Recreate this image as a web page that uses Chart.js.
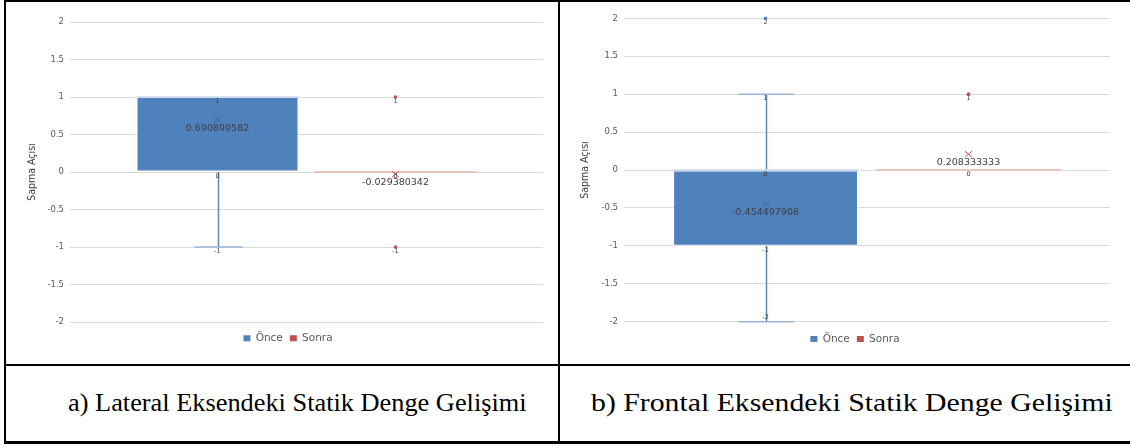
<!DOCTYPE html>
<html>
<head>
<meta charset="utf-8">
<script src="https://cdn.jsdelivr.net/npm/chart.js@4.4.0/dist/chart.umd.min.js"></script>
<style>
  body { margin: 0; width: 1130px; height: 446px; background: #fff; position: relative; overflow: hidden; }
  .rule { position: absolute; background: #000; }
  .box { position: absolute; }
  .cap { position: absolute; top: 386px; height: 34px; line-height: 34px; white-space: nowrap; transform-origin: 0 50%;
         font-family: "Liberation Serif", "Times New Roman", serif; font-size: 26px; color: #000; }
</style>
</head>
<body>
<div class="rule" style="left:4px;top:0;width:1126px;height:2px"></div>
<div class="rule" style="left:4px;top:364px;width:1126px;height:2px"></div>
<div class="rule" style="left:4px;top:441px;width:1126px;height:3px"></div>
<div class="rule" style="left:4px;top:0;width:2px;height:444px"></div>
<div class="rule" style="left:558px;top:0;width:2px;height:444px"></div>

<div class="box" style="left:8px;top:2px;width:548px;height:360px"><canvas id="chart-lateral"></canvas></div>
<div class="box" style="left:562px;top:2px;width:566px;height:360px"><canvas id="chart-frontal"></canvas></div>

<div class="cap" id="cap-a" style="left:68px;transform:scaleX(1.013)"></div>
<div class="cap" id="cap-b" style="left:591px;transform:scaleX(1.145)"></div>

<script>
var groups = ["Önce", "Sonra"];
var axisTitle = "Sapma Açısı";
var captions = ["a) Lateral Eksendeki Statik Denge Gelişimi", "b) Frontal Eksendeki Statik Denge Gelişimi"];
var yMin = -2;
var yMax = 2;
var yStep = 0.5;

// lateral panel (a)
var latMin = [-1, 0];
var latQ1 = [0, 0];
var latMedian = [1, 0];
var latQ3 = [1, 0];
var latMax = [1, 0];
var latMean = [0.690899582, -0.029380342];
var latOutliers = [[], [1, -1]];

// frontal panel (b)
var frMin = [-2, 0];
var frQ1 = [-1, 0];
var frMedian = [0, 0];
var frQ3 = [0, 0];
var frMax = [1, 0];
var frMean = [-0.454497908, 0.208333333];
var frOutliers = [[2], [1]];

var fills = ["#4f81bd", "#c0504d"];
var medianColors = ["#c9d7ea", "#e8b7b6"];
var meanColors = ["#3e6799", "#c0504d"];
var whiskerColor = "#5f8bc3";
var capColor = "#9ab5d9";
var labelColor = "#404040";
var tickFont = "DejaVu Sans";

function boxExtras(s) {
  function fmt(v) { return String(v); }
  return {
    id: "boxExtras",
    beforeDatasetsDraw: function (chart) {
      var ctx = chart.ctx, y = chart.scales.y;
      ctx.save();
      for (var i = 0; i < groups.length; i++) {
        var bar = chart.getDatasetMeta(i).data[0];
        var cx = Math.round(bar.x) + 0.5, cw = bar.width * 0.3;
        ctx.strokeStyle = whiskerColor;
        ctx.lineWidth = 1.5;
        ctx.beginPath();
        if (s.max[i] > s.q3[i]) { ctx.moveTo(cx, y.getPixelForValue(s.q3[i])); ctx.lineTo(cx, y.getPixelForValue(s.max[i])); }
        if (s.min[i] < s.q1[i]) { ctx.moveTo(cx, y.getPixelForValue(s.q1[i])); ctx.lineTo(cx, y.getPixelForValue(s.min[i])); }
        ctx.stroke();
        ctx.strokeStyle = capColor;
        ctx.beginPath();
        if (s.max[i] > s.q3[i]) { var py = y.getPixelForValue(s.max[i]); ctx.moveTo(cx - cw / 2, py); ctx.lineTo(cx + cw / 2, py); }
        if (s.min[i] < s.q1[i]) { var pm = y.getPixelForValue(s.min[i]); ctx.moveTo(cx - cw / 2, pm); ctx.lineTo(cx + cw / 2, pm); }
        ctx.stroke();
      }
      ctx.restore();
    },
    afterDatasetsDraw: function (chart) {
      var ctx = chart.ctx, y = chart.scales.y, area = chart.chartArea;
      ctx.save();
      for (var i = 0; i < groups.length; i++) {
        var bar = chart.getDatasetMeta(i).data[0];
        var cx = bar.x, w = bar.width;
        // median
        var my = y.getPixelForValue(s.median[i]);
        ctx.strokeStyle = medianColors[i];
        ctx.lineWidth = 1.5;
        ctx.beginPath();
        ctx.moveTo(cx - w / 2, my);
        ctx.lineTo(cx + w / 2, my);
        ctx.stroke();
        // outliers
        ctx.fillStyle = fills[i];
        s.outliers[i].forEach(function (v) {
          ctx.beginPath();
          ctx.arc(cx, y.getPixelForValue(v), 1.8, 0, Math.PI * 2);
          ctx.fill();
        });
        // mean marker
        var ym = y.getPixelForValue(s.mean[i]);
        ctx.strokeStyle = meanColors[i];
        ctx.lineWidth = 1;
        ctx.beginPath();
        ctx.moveTo(cx - 3.5, ym - 3);
        ctx.lineTo(cx + 3.5, ym + 3);
        ctx.moveTo(cx + 3.5, ym - 3);
        ctx.lineTo(cx - 3.5, ym + 3);
        ctx.stroke();
        // value labels
        ctx.fillStyle = labelColor;
        ctx.textAlign = "center";
        ctx.textBaseline = "middle";
        ctx.font = "6.5px '" + tickFont + "'";
        var vals = [s.min[i], s.q1[i], s.median[i], s.q3[i], s.max[i]].concat(s.outliers[i]);
        var seen = {};
        vals.forEach(function (v) {
          if (seen[v]) { return; }
          seen[v] = true;
          var py = y.getPixelForValue(v);
          var ly = py + 4.5;
          if (ly + 3 > area.bottom) { ly = py - 4; }
          ctx.fillText(fmt(v), cx, ly);
        });
        ctx.font = "9.5px '" + tickFont + "'";
        ctx.fillText(String(s.mean[i]), cx, ym + 8);
      }
      ctx.restore();
    },
  };
}

function makeChart(id, s, o) {
  var datasets = [];
  for (var i = 0; i < groups.length; i++) {
    datasets.push({
      label: groups[i],
      data: [[s.q1[i], s.q3[i]]],
      backgroundColor: fills[i],
      borderColor: "rgba(255,255,255,0.55)",
      borderWidth: s.q3[i] > s.q1[i] ? 1 : 0,
      borderSkipped: false,
      categoryPercentage: o.cat,
      barPercentage: o.bar,
    });
  }
  return new Chart(document.getElementById(id), {
    type: "bar",
    data: { labels: [""], datasets: datasets },
    options: {
      responsive: true,
      maintainAspectRatio: false,
      animation: false,
      layout: { padding: { left: o.padLeft, right: o.padRight, top: o.padTop, bottom: o.padBottom } },
      plugins: {
        tooltip: { enabled: false },
        legend: {
          position: "bottom",
          labels: {
            boxWidth: 7, boxHeight: 6, padding: 7, color: "#595959",
            font: { family: tickFont, size: 10.5 },
            generateLabels: function (chart) {
              var items = Chart.defaults.plugins.legend.labels.generateLabels(chart);
              items.forEach(function (it) { it.lineWidth = 0; });
              return items;
            },
          },
        },
      },
      scales: {
        x: {
          display: true,
          ticks: { display: false },
          grid: { display: false, drawTicks: false },
          border: { display: false },
          afterFit: function (sc) { sc.height = o.xGap; },
        },
        y: {
          min: yMin, max: yMax,
          border: { display: false },
          grid: { color: "#d9d9d9", lineWidth: 1, drawTicks: false },
          ticks: {
            stepSize: yStep, padding: 6, color: "#595959",
            font: { family: tickFont, size: 8.5 },
            callback: function (v) { return String(v); },
          },
          title: {
            display: true, text: axisTitle, color: "#404040",
            font: { family: "'Liberation Sans Narrow', 'DejaVu Sans Condensed', sans-serif", size: 10.5 },
            padding: { top: o.titlePad, bottom: 0 },
          },
          afterFit: function (sc) { sc.width = 62 - o.padLeft; },
        },
      },
    },
    plugins: [boxExtras(s)],
  });
}

makeChart("chart-lateral", {
  min: latMin, q1: latQ1, median: latMedian, q3: latQ3, max: latMax, mean: latMean, outliers: latOutliers,
}, { cat: 0.7526, bar: 0.91, padLeft: 25, padRight: 13, padTop: 20, padBottom: 8.5, xGap: 4, titlePad: -7 });

makeChart("chart-frontal", {
  min: frMin, q1: frQ1, median: frMedian, q3: frQ3, max: frMax, mean: frMean, outliers: frOutliers,
}, { cat: 0.835, bar: 0.911, padLeft: 38, padRight: 18, padTop: 16.3, padBottom: 7.8, xGap: 5, titlePad: -21 });

document.getElementById("cap-a").textContent = captions[0];
document.getElementById("cap-b").textContent = captions[1];
</script>
</body>
</html>
